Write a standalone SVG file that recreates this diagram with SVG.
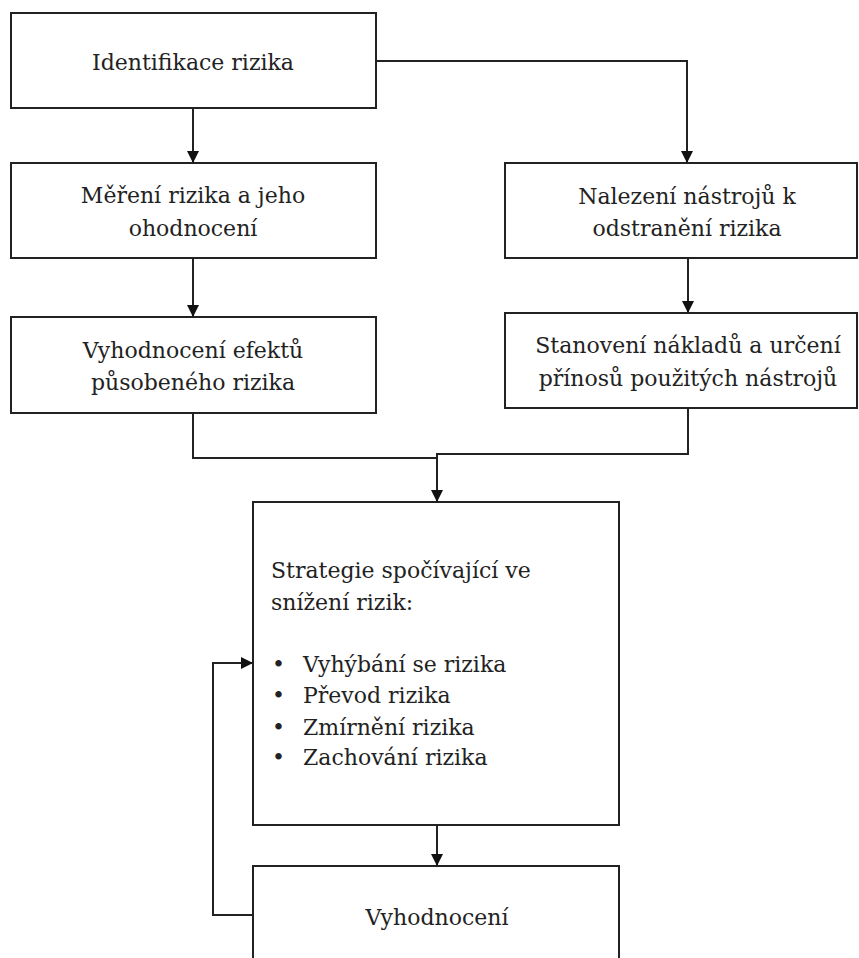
<svg xmlns="http://www.w3.org/2000/svg" width="859" height="958" viewBox="0 0 859 958">
<defs>
<marker id="ah" viewBox="0 0 12 12" refX="12" refY="6" markerWidth="12" markerHeight="12" markerUnits="userSpaceOnUse" orient="auto">
<path d="M0,0 L12,6 L0,12 z" fill="#111"/>
</marker>
<style>
.box{fill:#fff;stroke:#222;stroke-width:2}
.t{font-family:"DejaVu Serif","Liberation Serif",serif;font-size:22px;fill:#222}
.c{text-anchor:middle}
.ln{fill:none;stroke:#222;stroke-width:2}
</style>
</defs>
<rect width="859" height="958" fill="#fff"/>
<g id="n1"><rect class="box" x="11" y="13" width="365" height="95"/><text class="t c" x="193" y="70">Identifikace rizika</text></g>
<g id="n2"><rect class="box" x="11" y="163" width="365" height="95"/><text class="t c" x="193" y="203">Měření rizika a jeho</text><text class="t c" x="193" y="236">ohodnocení</text></g>
<g id="n3"><rect class="box" x="11" y="317" width="365" height="96"/><text class="t c" x="193" y="358">Vyhodnocení efektů</text><text class="t c" x="193" y="390">působeného rizika</text></g>
<g id="n4"><rect class="box" x="505" y="163" width="352" height="95"/><text class="t c" x="687" y="204">Nalezení nástrojů k</text><text class="t c" x="687" y="236">odstranění rizika</text></g>
<g id="n5"><rect class="box" x="505" y="313" width="352" height="95"/><text class="t c" x="688" y="353">Stanovení nákladů a určení</text><text class="t c" x="688" y="386">přínosů použitých nástrojů</text></g>
<g id="n6"><rect class="box" x="253" y="502" width="366" height="323"/>
<text class="t" x="271" y="578">Strategie spočívající ve</text><text class="t" x="271" y="610">snížení rizik:</text>
<text class="t" x="272" y="672">•</text><text class="t" x="303" y="672">Vyhýbání se rizika</text>
<text class="t" x="272" y="703">•</text><text class="t" x="303" y="703">Převod rizika</text>
<text class="t" x="272" y="735">•</text><text class="t" x="303" y="735">Zmírnění rizika</text>
<text class="t" x="272" y="765">•</text><text class="t" x="303" y="765">Zachování rizika</text></g>
<g id="n7"><rect class="box" x="253" y="866" width="366" height="110"/><text class="t c" x="437" y="925">Vyhodnocení</text></g>
<g id="connectors">
<path class="ln" d="M193,108 V163" marker-end="url(#ah)"/>
<path class="ln" d="M193,258 V317" marker-end="url(#ah)"/>
<path class="ln" d="M376,61 H687 V163" marker-end="url(#ah)"/>
<path class="ln" d="M688,258 V313" marker-end="url(#ah)"/>
<path class="ln" d="M193,413 V458 H437"/>
<path class="ln" d="M688,408 V454 H437 V502" marker-end="url(#ah)"/>
<path class="ln" d="M437,825 V866" marker-end="url(#ah)"/>
<path class="ln" d="M253,915 H213 V663 H253" marker-end="url(#ah)"/>
</g>
</svg>
